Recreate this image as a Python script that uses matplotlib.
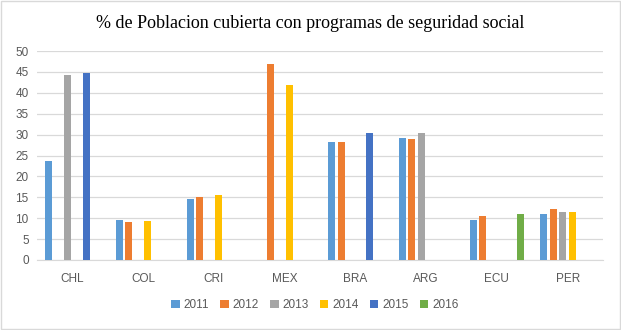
import matplotlib
matplotlib.use("Agg")
import matplotlib.pyplot as plt
import numpy as np

countries = ["CHL", "COL", "CRI", "MEX", "BRA", "ARG", "ECU", "PER"]
years = ["2011", "2012", "2013", "2014", "2015", "2016"]
nan = np.nan
# one list per year, in country order (nan = no bar)
v2011 = [23.6, 9.6, 14.5, nan, 28.3, 29.3, 9.6, 11.0]
v2012 = [nan, 9.0, 15.0, 46.9, 28.3, 29.0, 10.6, 12.2]
v2013 = [44.2, nan, nan, nan, nan, 30.5, nan, 11.5]
v2014 = [nan, 9.3, 15.5, 41.9, nan, nan, nan, 11.5]
v2015 = [44.8, nan, nan, nan, 30.5, nan, nan, nan]
v2016 = [nan, nan, nan, nan, nan, nan, 11.0, nan]
series = [v2011, v2012, v2013, v2014, v2015, v2016]
colors = ["#5B9BD5", "#ED7D31", "#A5A5A5", "#FFC000", "#4472C4", "#70AD47"]

fig = plt.figure(figsize=(6.21, 3.30), dpi=100)
ax = fig.add_axes([37/621, 70/330, 566/621, 209/330])

x = np.arange(len(countries))
slot = 0.134
w = 0.1
for i, (vals, c, y) in enumerate(zip(series, colors, years)):
    ax.bar(x + (i - 2.5) * slot, vals, width=w, color=c, label=y, zorder=3)

ax.set_xlim(-0.5, len(countries) - 0.5)
ax.set_ylim(0, 50)
ax.set_yticks(range(0, 51, 5))
ax.set_xticks(x)
ax.set_xticklabels(countries)
ax.grid(axis="y", color="#D9D9D9", linewidth=0.9, zorder=0)
for s in ["top", "right", "left"]:
    ax.spines[s].set_visible(False)
ax.spines["bottom"].set_color("#D9D9D9")
ax.tick_params(axis="both", length=0, labelsize=8.5, colors="#595959", pad=6)
for lab in ax.get_xticklabels() + ax.get_yticklabels():
    lab.set_family("Liberation Sans")
ax.tick_params(axis="x", pad=9)

fig.text(0.5, 0.928, "% de Poblacion cubierta con programas de seguridad social",
         ha="center", va="center", fontsize=13, family="Liberation Serif", color="black")

leg = fig.legend(loc="center", bbox_to_anchor=(0.507, 0.075), ncol=6, frameon=False,
                 handlelength=0.7, handleheight=0.7, handletextpad=0.3, columnspacing=1.0,
                 prop={"family": "Liberation Sans", "size": 8.5})
for t in leg.get_texts():
    t.set_color("#595959")

fig.patches.append(plt.Rectangle((0.002, 0.003), 0.996, 0.994, transform=fig.transFigure,
                                 fill=False, edgecolor="#D9D9D9", linewidth=1))

fig.savefig("out.png", dpi=100)
